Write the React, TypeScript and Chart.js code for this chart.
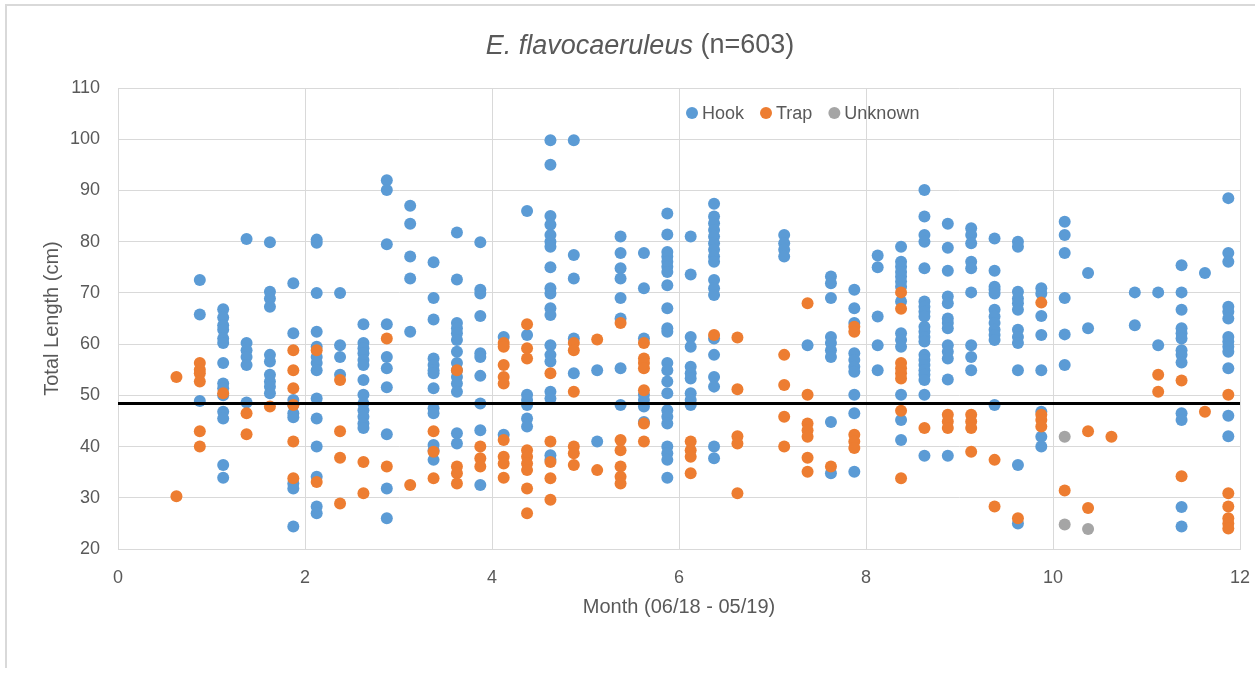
import React, { useEffect, useRef } from "react";
import { Chart, registerables } from "chart.js";

Chart.register(...registerables);

// ---- Data ----
const titleItalic = "E. flavocaeruleus";
const titleRest = " (n=603)";
const xAxisTitle = "Month (06/18 - 05/19)";
const yAxisTitle = "Total Length (cm)";
const seriesNames = ["Hook", "Trap", "Unknown"];
const seriesColors = ["#5B9BD5", "#ED7D31", "#A5A5A5"];

const months = [
  0.625, 0.875, 1.125, 1.375, 1.625, 1.875, 2.125, 2.375, 2.625, 2.875,
  3.125, 3.375, 3.625, 3.875, 4.125, 4.375, 4.625, 4.875, 5.125, 5.375,
  5.625, 5.875, 6.125, 6.375, 6.625, 7.125, 7.375, 7.625, 7.875, 8.125,
  8.375, 8.625, 8.875, 9.125, 9.375, 9.625, 9.875, 10.125, 10.375, 10.625,
  10.875, 11.125, 11.375, 11.625, 11.875,
];

const hookLengths: number[][] = [
  [],
  [72.5, 65.8, 48.9],
  [66.8, 65.2, 63.7, 62.8, 61.1, 60.2, 56.3, 52.3, 51.4, 50.0, 46.8, 45.5, 36.4, 33.9],
  [80.5, 60.2, 58.8, 57.5, 55.9, 48.6],
  [79.9, 70.2, 68.9, 67.3, 57.9, 56.6, 54.0, 52.7, 51.7, 50.4],
  [71.9, 62.1, 49.1, 48.1, 46.5, 45.7, 32.8, 31.8, 24.4],
  [80.4, 79.8, 70.0, 62.4, 59.5, 57.5, 56.3, 54.9, 49.4, 45.5, 40.0, 34.1, 28.3, 27.0],
  [70.0, 59.8, 57.5, 54.0],
  [63.9, 60.2, 59.2, 58.2, 56.9, 55.9, 53.0, 50.1, 48.4, 47.1, 45.8, 44.5, 43.6],
  [92.0, 90.1, 79.5, 63.9, 57.5, 55.3, 51.6, 42.4, 31.8, 26.0],
  [87.0, 83.5, 77.1, 72.8, 62.4],
  [76.0, 69.0, 64.8, 57.2, 55.9, 54.9, 54.3, 51.4, 47.5, 46.5, 40.3, 39.3, 37.4],
  [81.8, 72.6, 64.1, 63.1, 62.1, 60.8, 58.5, 56.3, 54.9, 53.6, 52.3, 50.7, 42.6, 40.6],
  [79.9, 70.6, 69.9, 65.5, 58.2, 57.5, 53.8, 48.4, 43.2, 32.5],
  [61.4, 42.3],
  [86.0, 61.8, 50.1, 49.1, 48.1, 45.5, 43.9],
  [99.8, 95.0, 85.0, 83.3, 81.3, 80.0, 79.0, 75.0, 70.9, 69.9, 67.0, 65.7, 59.8, 57.9, 56.6, 50.7, 49.4, 38.3, 37.4],
  [99.8, 77.4, 72.8, 61.1, 54.3],
  [54.9, 41.0],
  [81.0, 77.8, 74.8, 72.8, 69.0, 65.0, 55.3, 48.1],
  [77.8, 70.9, 61.1, 50.1, 49.1, 47.8, 44.8],
  [85.5, 81.4, 78.0, 77.1, 76.1, 75.1, 74.1, 71.5, 67.0, 63.1, 62.4, 56.3, 54.9, 52.7, 50.4, 47.1, 45.8, 44.5, 40.0, 38.7, 37.4, 33.9],
  [81.0, 73.6, 61.4, 59.5, 55.6, 54.3, 53.3, 50.4, 49.1, 48.1],
  [87.4, 84.9, 83.6, 82.3, 81.0, 79.7, 78.4, 77.1, 76.1, 72.5, 70.9, 69.6, 61.1, 57.9, 53.6, 51.7, 40.0, 37.7],
  [],
  [81.3, 79.7, 78.4, 77.1],
  [59.8],
  [73.2, 71.9, 69.0, 61.4, 60.2, 58.8, 57.5, 44.8, 34.8],
  [70.6, 67.0, 64.1, 58.2, 56.9, 55.6, 54.6, 50.1, 46.5, 35.1],
  [77.3, 75.0, 65.4, 59.8, 54.9],
  [79.0, 76.1, 75.1, 74.1, 73.2, 72.2, 71.2, 68.3, 62.1, 60.8, 59.5, 50.1, 45.2, 41.3],
  [90.1, 84.9, 81.3, 80.0, 74.8, 68.3, 67.3, 66.3, 65.4, 63.4, 62.4, 61.4, 60.5, 57.9, 56.9, 55.9, 54.9, 54.0, 53.0, 50.1, 38.2],
  [83.5, 78.8, 74.3, 69.3, 68.0, 65.0, 64.1, 63.1, 59.8, 58.5, 57.2, 53.1, 38.2],
  [82.6, 81.3, 79.7, 76.1, 74.8, 70.1, 59.8, 57.5, 54.9],
  [80.6, 74.3, 71.2, 70.6, 69.9, 66.7, 65.4, 64.1, 62.8, 61.8, 60.8, 48.1],
  [80.0, 79.0, 70.2, 68.9, 68.0, 66.7, 62.8, 61.4, 60.2, 54.9, 36.4, 25.0],
  [70.9, 69.9, 65.5, 61.8, 54.9, 46.8, 41.9, 40.0],
  [83.9, 81.3, 77.8, 69.0, 61.9, 55.9],
  [73.9, 63.1],
  [],
  [70.1, 63.7],
  [70.1, 59.8],
  [75.4, 70.1, 66.7, 63.1, 62.1, 61.1, 58.8, 57.9, 56.4, 46.5, 45.2, 28.2, 24.4],
  [73.9],
  [88.5, 77.8, 76.1, 67.3, 66.3, 65.0, 61.4, 60.5, 59.5, 58.5, 55.3, 46.0, 42.0],
];

const trapLengths: number[][] = [
  [53.6, 30.3],
  [56.3, 55.0, 54.3, 52.7, 43.0, 40.0],
  [50.4],
  [46.5, 42.4],
  [47.8],
  [58.8, 54.9, 51.4, 48.1, 41.0, 33.8],
  [58.8, 33.1],
  [53.0, 43.0, 37.8, 28.9],
  [37.0, 30.9],
  [61.1, 36.1],
  [32.5],
  [43.0, 39.0, 33.8],
  [54.9, 36.1, 34.8, 32.8],
  [40.0, 37.7, 36.1],
  [60.2, 59.5, 55.9, 53.6, 52.3, 41.3, 38.0, 36.7, 33.9],
  [63.9, 59.2, 57.2, 39.3, 38.0, 36.7, 35.4, 31.8, 27.0],
  [54.3, 41.0, 37.0, 33.8, 29.6],
  [60.2, 58.8, 50.7, 40.0, 38.7, 36.4],
  [60.9, 35.4],
  [64.1, 41.3, 39.3, 36.1, 34.1, 32.8],
  [60.2, 57.2, 56.3, 55.3, 51.0, 44.5, 41.0],
  [],
  [41.0, 39.3, 38.0, 34.8],
  [61.8],
  [61.3, 51.2, 42.0, 40.6, 30.9],
  [57.9, 52.0, 45.8, 40.0],
  [68.0, 50.1, 44.5, 43.2, 41.9, 37.8, 35.1],
  [36.1],
  [63.4, 62.4, 42.3, 41.0, 39.7],
  [],
  [70.1, 66.9, 56.3, 55.3, 54.3, 53.3, 47.0, 33.8],
  [43.6],
  [46.2, 44.9, 43.6],
  [46.2, 44.9, 43.6, 39.0],
  [37.4, 28.3],
  [26.0],
  [68.1, 46.2, 45.2, 43.9],
  [31.4],
  [43.0, 28.0],
  [41.9],
  [],
  [54.0, 50.7],
  [52.9, 34.2],
  [46.8],
  [50.1, 30.9, 28.3, 26.0, 25.0, 24.0],
];

const unknownMonths = [10.125, 10.125, 10.375];
const unknownLengths = [41.9, 24.8, 23.9];

const referenceLength = 48.4;
const xTicksRange = [0, 12];
const yTicksRange = [20, 110];

// ---- Styling ----
const FONT = '"Liberation Sans", Arial, sans-serif';
const TEXT = "#595959";
const GRID = "#d9d9d9";

const toPoints = (cols: number[][]) =>
  months.flatMap((m, i) => (cols[i] || []).map((y) => ({ x: m, y })));

const titlePlugin = {
  id: "mixedTitle",
  afterDraw(chart: any) {
    const { ctx } = chart;
    ctx.save();
    const size = 27;
    const fi = `italic ${size}px ${FONT}`;
    const fn = `${size}px ${FONT}`;
    ctx.font = fi;
    const w1 = ctx.measureText(titleItalic).width;
    ctx.font = fn;
    const w2 = ctx.measureText(titleRest).width;
    const cx = 640;
    const x = cx - (w1 + w2) / 2;
    ctx.fillStyle = TEXT;
    ctx.textBaseline = "middle";
    ctx.textAlign = "left";
    ctx.font = fi;
    ctx.fillText(titleItalic, x, 46);
    ctx.font = fn;
    ctx.fillText(titleRest, x + w1, 46);
    ctx.restore();
  },
};

const legendPlugin = {
  id: "innerLegend",
  afterDraw(chart: any) {
    const { ctx, chartArea } = chart;
    ctx.save();
    ctx.font = `18px ${FONT}`;
    ctx.textBaseline = "middle";
    ctx.textAlign = "left";
    const y = chartArea.top + 25;
    let x = 686;
    seriesNames.forEach((name, i) => {
      ctx.fillStyle = seriesColors[i];
      ctx.beginPath();
      ctx.arc(x + 6, y, 6, 0, Math.PI * 2);
      ctx.fill();
      ctx.fillStyle = TEXT;
      ctx.fillText(name, x + 16, y + 1);
      x += 16 + ctx.measureText(name).width + 16;
    });
    ctx.restore();
  },
};

export default function App() {
  const canvasRef = useRef<HTMLCanvasElement | null>(null);

  useEffect(() => {
    if (!canvasRef.current) return;
    const chart = new Chart(canvasRef.current, {
      type: "scatter",
      data: {
        datasets: [
          {
            type: "line",
            label: "ref",
            data: [
              { x: xTicksRange[0], y: referenceLength },
              { x: xTicksRange[1], y: referenceLength },
            ],
            borderColor: "#000000",
            borderWidth: 3,
            pointRadius: 0,
            order: 0,
          } as any,
          {
            label: seriesNames[2],
            data: unknownMonths.map((m, i) => ({ x: m, y: unknownLengths[i] })),
            backgroundColor: seriesColors[2],
            borderColor: seriesColors[2],
            pointRadius: 6,
            borderWidth: 0,
            order: 1,
          },
          {
            label: seriesNames[1],
            data: toPoints(trapLengths),
            backgroundColor: seriesColors[1],
            borderColor: seriesColors[1],
            pointRadius: 6,
            borderWidth: 0,
            order: 2,
          },
          {
            label: seriesNames[0],
            data: toPoints(hookLengths),
            backgroundColor: seriesColors[0],
            borderColor: seriesColors[0],
            pointRadius: 6,
            borderWidth: 0,
            order: 3,
          },
        ],
      },
      options: {
        animation: false,
        responsive: false,
        layout: { padding: { top: 88, right: 19, bottom: 0, left: 0 } },
        plugins: {
          legend: { display: false },
          title: { display: false },
          tooltip: { enabled: false },
        },
        scales: {
          x: {
            type: "linear",
            min: xTicksRange[0],
            max: xTicksRange[1],
            ticks: {
              stepSize: 2,
              color: TEXT,
              font: { family: FONT, size: 18 },
              padding: 18,
            },
            grid: { color: GRID, drawTicks: false, lineWidth: 1 },
            border: { color: GRID },
            title: {
              display: true,
              text: xAxisTitle,
              color: TEXT,
              font: { family: FONT, size: 20 },
              padding: { top: 0, bottom: 76 },
            },
            afterFit: (scale: any) => {
              scale.height = 146;
              scale.paddingLeft = 0;
              scale.paddingRight = 0;
            },
          },
          y: {
            type: "linear",
            min: yTicksRange[0],
            max: yTicksRange[1],
            ticks: {
              stepSize: 10,
              color: TEXT,
              font: { family: FONT, size: 18 },
              padding: 18,
            },
            grid: { color: GRID, drawTicks: false, lineWidth: 1 },
            border: { color: GRID },
            title: {
              display: true,
              text: yAxisTitle,
              color: TEXT,
              font: { family: FONT, size: 20 },
              padding: { top: 40, bottom: 0 },
            },
            afterFit: (scale: any) => {
              scale.width = 118;
              scale.paddingTop = 0;
              scale.paddingBottom = 0;
            },
          },
        },
      },
      plugins: [titlePlugin, legendPlugin],
    });
    return () => chart.destroy();
  }, []);

  return (
    <div
      style={{
        position: "fixed",
        left: 0,
        top: 0,
        width: 1259,
        height: 695,
        background: "#ffffff",
      }}
    >
      <div
        style={{
          position: "absolute",
          left: 5,
          top: 4,
          width: 1250,
          height: 664,
          borderTop: "2px solid #d9d9d9",
          borderLeft: "2px solid #d9d9d9",
          boxSizing: "border-box",
        }}
      />
      <canvas
        ref={canvasRef}
        width={1259}
        height={695}
        style={{ position: "absolute", left: 0, top: 0, width: 1259, height: 695 }}
      />
    </div>
  );
}
